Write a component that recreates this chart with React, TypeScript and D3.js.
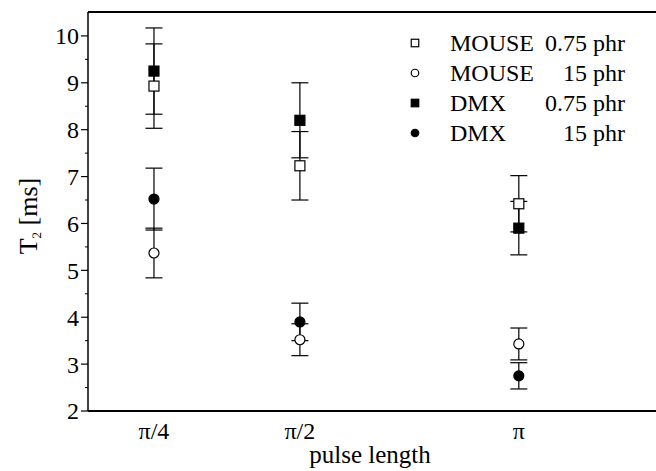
import React, { useEffect, useRef } from "react";
import * as d3 from "d3";

const categories = ["π/4", "π/2", "π"];
const categoryPositions = [1, 2, 3.5];

const mouse075 = [8.93, 7.23, 6.42];
const mouse075Err = [0.9, 0.73, 0.6];
const mouse15 = [5.37, 3.52, 3.43];
const mouse15Err = [0.53, 0.34, 0.34];
const dmx075 = [9.25, 8.2, 5.9];
const dmx075Err = [0.92, 0.8, 0.57];
const dmx15 = [6.52, 3.9, 2.75];
const dmx15Err = [0.66, 0.4, 0.28];

const yTicks = [2, 3, 4, 5, 6, 7, 8, 9, 10];
const yMinorTicks = [2.5, 3.5, 4.5, 5.5, 6.5, 7.5, 8.5, 9.5];

const seriesNames = ["MOUSE", "MOUSE", "DMX", "DMX"];
const seriesConc = ["0.75 phr", "15 phr", "0.75 phr", "15 phr"];

export default function App() {
  const ref = useRef<SVGSVGElement>(null);

  useEffect(() => {
    const svg = d3.select(ref.current);
    svg.selectAll("*").remove();
    const W = 656, H = 471;
    const left = 88, right = 656, top = 12, bottom = 411;
    const font = "Liberation Serif";

    const x = d3.scaleLinear().domain([0.548, 4.44]).range([left, right]);
    const y = d3.scaleLinear().domain([2, 10.51]).range([bottom, top]);

    svg.append("rect").attr("width", W).attr("height", H).attr("fill", "white");

    const series = [
      { v: mouse075, e: mouse075Err, shape: "square", filled: false },
      { v: mouse15, e: mouse15Err, shape: "circle", filled: false },
      { v: dmx075, e: dmx075Err, shape: "square", filled: true },
      { v: dmx15, e: dmx15Err, shape: "circle", filled: true },
    ];

    const txt = (g: any) => g.style("font-family", font).style("fill", "#000");

    // axes frame
    svg.append("line").attr("x1", left).attr("x2", right).attr("y1", top).attr("y2", top)
      .attr("stroke", "black").attr("stroke-width", 2);
    svg.append("line").attr("x1", left).attr("x2", right).attr("y1", bottom).attr("y2", bottom)
      .attr("stroke", "black").attr("stroke-width", 2);
    svg.append("line").attr("x1", left).attr("x2", left).attr("y1", top).attr("y2", bottom)
      .attr("stroke", "black").attr("stroke-width", 1.5);

    // y ticks
    const gy = svg.append("g");
    yTicks.forEach((t) => {
      gy.append("line").attr("x1", left - 7).attr("x2", left).attr("y1", y(t)).attr("y2", y(t))
        .attr("stroke", "black").attr("stroke-width", 1.2);
      txt(gy.append("text")).attr("x", left - 9).attr("y", y(t)).attr("dy", "0.35em")
        .attr("text-anchor", "end").style("font-size", "24px")
        .text(String(t));
    });
    yMinorTicks.forEach((t) => {
      gy.append("line").attr("x1", left - 3).attr("x2", left).attr("y1", y(t)).attr("y2", y(t))
        .attr("stroke", "black").attr("stroke-width", 1);
    });

    // x tick labels
    categories.forEach((c, i) => {
      txt(svg.append("text")).attr("x", x(categoryPositions[i])).attr("y", bottom + 28)
        .attr("text-anchor", "middle").style("font-size", "24px")
        .text(c);
    });

    // axis titles
    txt(svg.append("text")).attr("x", (left + right) / 2 - 2).attr("y", 463)
      .attr("text-anchor", "middle").style("font-size", "25px")
      .text("pulse length");
    const yg = svg.append("g").attr("transform", "translate(37,216) rotate(-90)");
    const yl = txt(yg.append("text")).attr("text-anchor", "middle").style("font-size", "26px")
      .style("text-rendering", "geometricPrecision").style("-webkit-font-smoothing", "antialiased");
    yl.append("tspan").text("T");
    yl.append("tspan").style("font-size", "13px").attr("dy", 4).text("2");
    yl.append("tspan").attr("dy", -4).text(" [ms]");

    // error bars
    const cap = 8.5;
    series.forEach((s) => {
      s.v.forEach((v, i) => {
        const cx = x(categoryPositions[i]);
        const lo = y(v - s.e[i]), hi = y(v + s.e[i]);
        svg.append("line").attr("x1", cx).attr("x2", cx).attr("y1", lo).attr("y2", hi)
          .attr("stroke", "black").attr("stroke-width", 1.2);
        [lo, hi].forEach((yy) => {
          svg.append("line").attr("x1", cx - cap).attr("x2", cx + cap).attr("y1", yy).attr("y2", yy)
            .attr("stroke", "black").attr("stroke-width", 1.2);
        });
      });
    });

    const drawMarker = (g: any, cx: number, cy: number, shape: string, filled: boolean, size: number) => {
      if (shape === "square") {
        g.append("rect").attr("x", cx - size / 2).attr("y", cy - size / 2)
          .attr("width", size).attr("height", size)
          .attr("fill", filled ? "black" : "white").attr("stroke", "black").attr("stroke-width", 1.2);
      } else {
        g.append("circle").attr("cx", cx).attr("cy", cy).attr("r", size / 2)
          .attr("fill", filled ? "black" : "white").attr("stroke", "black").attr("stroke-width", 1.2);
      }
    };

    series.forEach((s) => {
      s.v.forEach((v, i) => {
        drawMarker(svg, x(categoryPositions[i]), y(v), s.shape, s.filled, 10);
      });
    });

    // legend
    series.forEach((s, i) => {
      const ly = 43 + i * 30;
      drawMarker(svg, 415, ly, s.shape, s.filled, 7.5);
      txt(svg.append("text")).attr("x", 450).attr("y", ly).attr("dy", "0.35em")
        .style("font-size", "24px").text(seriesNames[i]);
      txt(svg.append("text")).attr("x", 625).attr("y", ly).attr("dy", "0.35em")
        .attr("text-anchor", "end").style("font-size", "24px").text(seriesConc[i]);
    });
  }, []);

  return (
    <svg ref={ref} width={656} height={471}
      style={{ position: "absolute", left: 0, top: 0, display: "block" }} />
  );
}
